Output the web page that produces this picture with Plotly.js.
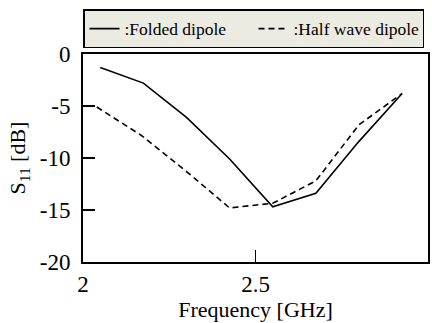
<!DOCTYPE html>
<html>
<head>
<meta charset="utf-8">
<script src="https://cdn.plot.ly/plotly-3.0.1.min.js"></script>
<style>html,body{margin:0;padding:0;background:#fff;}#chart{width:432px;height:323px;}</style>
</head>
<body>
<div id="chart"></div>
<script>
// Folded dipole
const foldedFreq = [2.05, 2.175, 2.30, 2.425, 2.55, 2.675, 2.80, 2.925];
const foldedS11  = [-1.3, -2.8, -6.1, -10.1, -14.7, -13.4, -8.4, -3.8];
// Half wave dipole
const halfFreq = [2.04, 2.17, 2.30, 2.425, 2.55, 2.675, 2.80, 2.925];
const halfS11  = [-5.1, -7.85, -11.3, -14.8, -14.35, -12.2, -6.8, -3.8];

const xTicks = [2, 2.5, 3];
const xTickText = ['2', '2.5', '3'];
const yTicks = [0, -5, -10, -15, -20];
const yTickText = ['0', '-5', '-10', '-15', '-20'];

const FONT = 'Liberation Serif';

const traces = [
  {x: foldedFreq, y: foldedS11, name: ':Folded dipole', type: 'scatter', mode: 'lines',
   line: {color: '#000', width: 1.6}},
  {x: halfFreq, y: halfS11, name: ':Half wave dipole', type: 'scatter', mode: 'lines',
   line: {color: '#000', width: 1.6, dash: '6px,4px'}}
];

const layout = {
  width: 432, height: 323,
  margin: {l: 83, r: 4, t: 54, b: 61},
  paper_bgcolor: '#fff', plot_bgcolor: '#fff',
  font: {family: FONT, color: '#000', size: 22},
  showlegend: true,
  legend: {
    orientation: 'h', x: 0, xanchor: 'left', y: 1.215, yanchor: 'top',
    bgcolor: '#ECEBE1', bordercolor: '#000', borderwidth: 1.5,
    font: {family: FONT, size: 17.5, color: '#000'},
    itemwidth: 30, tracegroupgap: 0,
    entrywidth: 124, entrywidthmode: 'pixels'
  },
  xaxis: {
    range: [2, 3], tickvals: xTicks, ticktext: xTickText,
    ticks: 'inside', ticklen: 12, tickwidth: 1.5, tickcolor: '#000',
    showline: true, linecolor: '#000', linewidth: 2, mirror: true,
    showgrid: false, zeroline: false,
    tickfont: {family: FONT, size: 23, color: '#000'},
    title: {text: 'Frequency [GHz]', font: {family: FONT, size: 22, color: '#000'}, standoff: 6}
  },
  yaxis: {
    range: [-20, 0], tickvals: yTicks, ticktext: yTickText,
    ticks: 'inside', ticklen: 12, tickwidth: 2, tickcolor: '#000',
    showline: true, linecolor: '#000', linewidth: 2, mirror: true,
    showgrid: false, zeroline: false,
    tickfont: {family: FONT, size: 23, color: '#000'},
    ticklabelstandoff: 6,
    title: {text: 'S<sub>11</sub> [dB]', font: {family: FONT, size: 22, color: '#000'}, standoff: 8}
  }
};

Plotly.newPlot('chart', traces, layout, {displayModeBar: false, staticPlot: true});
</script>
</body>
</html>
